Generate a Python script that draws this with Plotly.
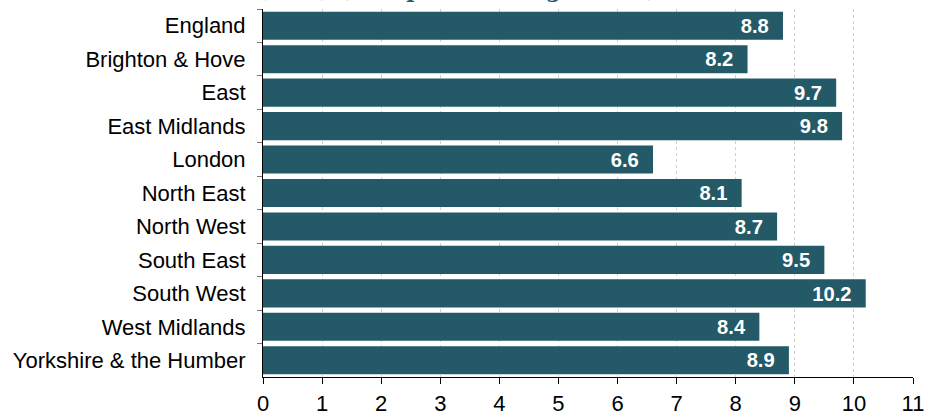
import plotly.graph_objects as go

regions = ["England", "Brighton & Hove", "East", "East Midlands", "London",
           "North East", "North West", "South East", "South West",
           "West Midlands", "Yorkshire & the Humber"]
values = [8.8, 8.2, 9.7, 9.8, 6.6, 8.1, 8.7, 9.5, 10.2, 8.4, 8.9]
x_ticks = list(range(0, 12))
title_text = "Prevalence (DSR) (rate per 1,000 aged 18+)"

bar_color = "#245a67"

fig = go.Figure(go.Bar(
    x=values, y=regions, orientation="h",
    marker=dict(color=bar_color, line=dict(width=0)),
    text=[f"{v:.1f}" for v in values],
    textposition="inside", insidetextanchor="end",
    textfont=dict(family="Liberation Sans, Arial, sans-serif", size=21, color="white"),
    texttemplate="<b>%{text}</b>\u00a0\u00a0",
    cliponaxis=False,
))

fig.update_layout(
    width=927, height=411,
    margin=dict(l=263, r=14, t=9, b=34, autoexpand=False),
    paper_bgcolor="white", plot_bgcolor="white",
    bargap=0.16,
    showlegend=False,
    font=dict(family="Liberation Sans, Arial, sans-serif", size=22, color="black"),
    xaxis=dict(
        range=[0, 11], tickvals=x_ticks, ticktext=[str(t) for t in x_ticks],
        showgrid=True, gridcolor="#d0d0d0", griddash="dot", gridwidth=1,
        showline=True, linecolor="black", linewidth=1,
        ticks="outside", ticklen=6, tickcolor="black",
        zeroline=False, tickfont=dict(size=22), ticklabelstandoff=1,
        automargin=False,
    ),
    yaxis=dict(
        categoryorder="array", categoryarray=regions, autorange="reversed",
        showline=True, linecolor="black", linewidth=1,
        ticks="outside", ticklen=5, tickcolor="#777777", tickson="boundaries",
        showgrid=False, tickfont=dict(size=22), ticklabelstandoff=12,
        automargin=False,
    ),
    annotations=[dict(
        text=f"<b>{title_text}</b>", xref="paper", yref="paper",
        x=0.61, y=1, xanchor="right", yanchor="bottom", yshift=5,
        showarrow=False,
        font=dict(family="DejaVu Serif, Liberation Serif, serif", size=22, color="#1f5f6b"),
    )],
)

fig.write_html("out.html")
